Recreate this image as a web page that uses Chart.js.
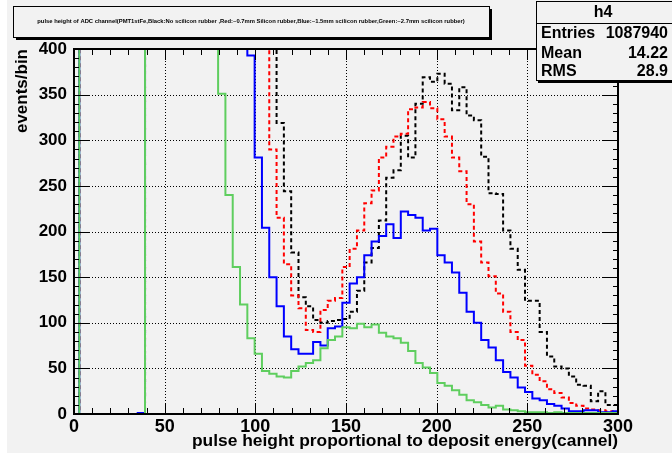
<!DOCTYPE html>
<html>
<head>
<meta charset="utf-8">
<script src="https://cdn.jsdelivr.net/npm/chart.js@4/dist/chart.umd.min.js"></script>
<style>
  html, body { margin: 0; padding: 0; background: #fff; }
  #wrap { width: 672px; height: 457px; }
</style>
</head>
<body>
<div id="wrap"><canvas id="h4" width="672" height="457"></canvas></div>
<script>
// histogram binning (channel units)
const binStart = -1.13;
const binWidth = 4.03;
const xTicks = [0, 50, 100, 150, 200, 250, 300];
const yTicks = [0, 50, 100, 150, 200, 250, 300, 350, 400];

// counts per bin, 1000 = off scale (above the frame)
const blackNoRubber = [
  1000, 0, 0, 0, 0, 0, 0, 0, 0, 0,
  1000, 1000, 1000, 1000, 1000, 1000, 1000, 1000, 1000, 1000,
  1000, 1000, 1000, 1000, 1000, 1000, 1000, 1000,
  319, 244, 177, 128, 118, 103, 100, 102, 103, 104,
  112, 135, 166, 182, 212, 259, 267, 305, 281, 340,
  369, 364, 373, 362, 333, 358, 327, 322, 282, 242,
  241, 201, 181, 158, 124, 124, 90, 63, 52, 50,
  41, 32, 31, 14, 25, 10, 10
];
const red07mm = [
  1000, 0, 0, 0, 0, 0, 0, 0, 0, 0,
  1000, 1000, 1000, 1000, 1000, 1000, 1000, 1000, 1000, 1000,
  1000, 1000, 1000, 1000, 1000, 1000, 1000,
  290, 215, 164, 130, 116, 92, 90, 114, 124, 127,
  161, 181, 201, 231, 245, 281, 293, 304, 307, 334,
  336, 342, 335, 323, 304, 281, 266, 230, 189, 166,
  151, 132, 112, 90, 81, 53, 43, 36, 27, 23,
  18, 12, 9, 6, 5, 4, 3, 2
];
const blue15mm = [
  1000, 0, 0, 0, 0, 0, 0, 0, 0, 1,
  1000, 1000, 1000, 1000, 1000, 1000, 1000, 1000, 1000, 1000,
  1000, 1000, 1000, 1000,
  393, 281, 204, 150, 118, 85, 71, 66, 66, 79,
  75, 94, 96, 122, 143, 150, 174, 189, 195, 208,
  193, 222, 218, 215, 201, 203, 174, 166, 155, 133,
  112, 100, 81, 73, 59, 46, 40, 29, 24, 17,
  15, 11, 9, 6, 3, 3, 4, 4, 2, 2, 3
];
const green27mm = [
  1000, 0, 0, 0, 0, 0, 0, 0, 0, 0,
  1000, 1000, 1000, 1000, 1000, 1000, 1000, 1000, 1000, 1000,
  351, 240, 161, 120, 83, 66, 47, 44, 41, 40,
  47, 52, 56, 59, 72, 81, 85, 95, 94, 99,
  95, 98, 89, 85, 83, 78, 69, 56, 51, 45,
  34, 31, 26, 21, 15, 13, 10, 7, 9, 5,
  4, 3, 2, 2, 2, 1, 2, 1, 1, 1,
  1, 1, 1, 1, 1
];

const titleText = 'pulse height of ADC channel(PMT1stFe,Black:No scilicon rubber ,Red:~0.7mm Silicon rubber,Blue:~1.5mm scilicon rubber,Green:~2.7mm scilicon rubber)';
const statsRows = [['Entries', '1087940'], ['Mean', '14.22'], ['RMS', '28.9']];

const FONT = "'Liberation Sans', Arial, Helvetica, sans-serif";
const padGrey = '#f2f2f2';

// histogram -> step points (value holds from lower edge to next edge);
// the underflow edge is pinned to the axis start so the first step is kept
function histPoints(vals) {
  const pts = vals.map((v, i) => ({ x: Math.max(0, binStart + i * binWidth), y: v }));
  pts.push({ x: binStart + vals.length * binWidth, y: vals[vals.length - 1] });
  return pts;
}

function line(ctx, x1, y1, x2, y2) {
  ctx.beginPath();
  ctx.moveTo(x1, y1);
  ctx.lineTo(x2, y2);
  ctx.stroke();
}

const rootStyle = {
  id: 'rootStyle',
  beforeDraw(chart) {
    const ctx = chart.ctx;
    ctx.save();
    ctx.fillStyle = '#fff';
    ctx.fillRect(0, 0, chart.width, chart.height);
    ctx.fillStyle = padGrey;
    ctx.fillRect(7, 0, chart.width - 7, 453);
    ctx.restore();
  },
  beforeDatasetsDraw(chart) {
    // dotted grid
    const { ctx, chartArea: a, scales } = chart;
    ctx.save();
    ctx.strokeStyle = '#000';
    ctx.lineWidth = 1;
    ctx.setLineDash([1, 2]);
    xTicks.slice(1, -1).forEach(v => {
      const px = Math.round(scales.x.getPixelForValue(v)) + 0.5;
      line(ctx, px, a.top, px, a.bottom);
    });
    yTicks.slice(1, -1).forEach(v => {
      const py = Math.round(scales.y.getPixelForValue(v)) + 0.5;
      line(ctx, a.left, py, a.right, py);
    });
    ctx.restore();
  },
  afterDatasetsDraw(chart) {
    const { ctx, chartArea: a, scales } = chart;
    ctx.save();
    ctx.strokeStyle = '#000';
    ctx.lineWidth = 1;
    // ticks inside the frame, minor every 10
    for (let v = 0; v <= 400; v += 10) {
      const py = Math.round(scales.y.getPixelForValue(v)) + 0.5;
      const len = v % 50 === 0 ? 15 : 5;
      line(ctx, a.left, py, a.left + len, py);
      line(ctx, a.right, py, a.right - len, py);
    }
    for (let v = 0; v <= 300; v += 10) {
      const px = Math.round(scales.x.getPixelForValue(v)) + 0.5;
      const len = v % 50 === 0 ? 11 : 6;
      line(ctx, px, a.bottom, px, a.bottom - len);
      line(ctx, px, a.top, px, a.top + len);
    }
    ctx.lineWidth = 2;
    ctx.strokeRect(a.left, a.top, a.right - a.left, a.bottom - a.top);
    ctx.restore();
  },
  afterDraw(chart) {
    const { ctx, chartArea: a } = chart;
    ctx.save();
    // title box with shadow
    ctx.fillStyle = '#000';
    ctx.fillRect(16, 9, 476, 31);
    ctx.fillStyle = padGrey;
    ctx.fillRect(13, 6, 476, 31);
    ctx.strokeStyle = '#000';
    ctx.lineWidth = 1;
    ctx.strokeRect(13.5, 6.5, 476, 31);
    ctx.fillStyle = '#000';
    ctx.font = 'bold 5.85px ' + FONT;
    ctx.textAlign = 'center';
    ctx.textBaseline = 'middle';
    ctx.fillText(titleText, 251, 21);

    // stats box
    ctx.fillStyle = '#000';
    ctx.fillRect(538, 3, 140, 80);
    ctx.fillStyle = padGrey;
    ctx.fillRect(536, 1, 140, 79);
    ctx.strokeRect(536.5, 1.5, 140, 79);
    line(ctx, 536, 23.5, 672, 23.5);
    ctx.fillStyle = '#000';
    ctx.font = 'bold 16px ' + FONT;
    ctx.textAlign = 'center';
    ctx.fillText('h4', 603, 13);
    const rowY = [34, 54, 72];
    statsRows.forEach((r, i) => {
      ctx.textAlign = 'left';
      ctx.fillText(r[0], 541, rowY[i]);
      ctx.textAlign = 'right';
      ctx.fillText(r[1], 668, rowY[i]);
    });

    // axis titles
    ctx.font = 'bold 17.4px ' + FONT;
    ctx.textAlign = 'right';
    ctx.fillText('pulse height proportional to deposit energy(cannel)', a.right, 441);
    ctx.translate(22, a.top);
    ctx.rotate(-Math.PI / 2);
    ctx.font = 'bold 17px ' + FONT;
    ctx.fillText('events/bin', 0, 0);
    ctx.restore();
  }
};

new Chart(document.getElementById('h4'), {
  type: 'line',
  data: {
    datasets: [
      { label: 'Green ~2.7mm', data: histPoints(green27mm), borderColor: '#5fce5f', borderWidth: 2, order: 0 },
      { label: 'Blue ~1.5mm', data: histPoints(blue15mm), borderColor: '#0000ff', borderWidth: 2, order: 1 },
      { label: 'Red ~0.7mm', data: histPoints(red07mm), borderColor: '#ff0000', borderWidth: 2, borderDash: [4, 3], order: 2 },
      { label: 'Black no rubber', data: histPoints(blackNoRubber), borderColor: '#000000', borderWidth: 2, borderDash: [4, 3], order: 3 }
    ].map(d => Object.assign(d, { stepped: true, pointRadius: 0, fill: false, tension: 0 }))
  },
  options: {
    responsive: false,
    devicePixelRatio: 1,
    animation: false,
    layout: { padding: { left: 0, top: 49, right: 54, bottom: 0 } },
    scales: {
      x: {
        type: 'linear',
        min: 0,
        max: 300,
        afterFit(s) { s.height = 43; },
        afterBuildTicks(s) { s.ticks = xTicks.map(v => ({ value: v })); },
        grid: { display: false, drawTicks: false },
        border: { display: false },
        ticks: { font: { family: FONT, size: 18, weight: 'bold' }, color: '#000', padding: 2, autoSkip: false, maxRotation: 0 }
      },
      y: {
        type: 'linear',
        min: 0,
        max: 400,
        afterFit(s) { s.width = 74; },
        afterBuildTicks(s) { s.ticks = yTicks.map(v => ({ value: v })); },
        grid: { display: false, drawTicks: false },
        border: { display: false },
        ticks: { font: { family: FONT, size: 17, weight: 'bold' }, color: '#000', padding: 7, autoSkip: false }
      }
    },
    plugins: {
      legend: { display: false },
      tooltip: { enabled: false }
    }
  },
  plugins: [rootStyle]
});
</script>
</body>
</html>
